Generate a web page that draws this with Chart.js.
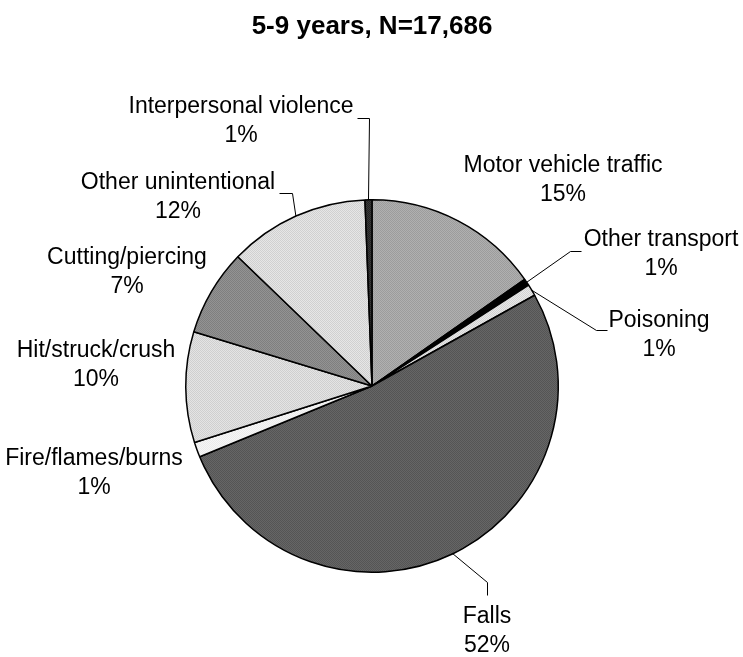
<!DOCTYPE html>
<html>
<head>
<meta charset="utf-8">
<script src="https://cdn.jsdelivr.net/npm/chart.js@4.4.1/dist/chart.umd.min.js"></script>
<style>
html,body{margin:0;padding:0;background:#fff;}
#wrap{width:743px;height:657px;}
</style>
</head>
<body>
<div id="wrap"><canvas id="c" width="743" height="657"></canvas></div>
<script>
// ---- data ----
const chartTitle = "5-9 years, N=17,686";
const categories = ["Motor vehicle traffic","Other transport","Poisoning","Falls","Fire/flames/burns","Hit/struck/crush","Cutting/piercing","Other unintentional","Interpersonal violence"];
const shareValues = [15.3, 0.6, 1.0, 51.9, 1.3, 9.6, 7.5, 12.2, 0.6];
const shareLabels = ["15%","1%","1%","52%","1%","10%","7%","12%","1%"];

// ---- styling ----
function dotPattern(a, b){
  const p = document.createElement('canvas'); p.width = 2; p.height = 2;
  const g = p.getContext('2d');
  g.fillStyle = a; g.fillRect(0,0,2,2);
  g.fillStyle = b; g.fillRect(0,0,1,1); g.fillRect(1,1,1,1);
  return g.createPattern(p,'repeat');
}
const sliceFills = [
  dotPattern('#b0b0b0','#9c9c9c'),
  '#000000',
  dotPattern('#e8e8e8','#d2d2d2'),
  dotPattern('#666666','#555555'),
  dotPattern('#f6f6f6','#ebebeb'),
  dotPattern('#e4e4e4','#cfcfcf'),
  dotPattern('#939393','#7f7f7f'),
  dotPattern('#e6e6e6','#d0d0d0'),
  dotPattern('#3a3a3a','#222222')
];
// label layout: text centre, and optional leader-line path (elbow points)
const labelLayout = [
  {x:563, y:166, path:null},
  {x:661, y:240, path:[[570,251],[581,251]]},
  {x:659, y:321, path:[[596,330],[607,330]]},
  {x:487, y:617, path:[[487,582],[487,595]]},
  {x:94,  y:459, path:null},
  {x:96,  y:351, path:null},
  {x:127, y:258, path:null},
  {x:178, y:183, path:[[292,193],[279,193]]},
  {x:241, y:107, path:[[369,118],[357,118]]}
];
const lineGap = 29;
const FONT = '"Liberation Sans", Arial, sans-serif';

const labelPlugin = {
  id:'outLabels',
  afterDatasetsDraw(chart){
    const ctx = chart.ctx;
    const meta = chart.getDatasetMeta(0);
    ctx.save();
    // title
    ctx.fillStyle = '#000';
    ctx.font = 'bold 26px ' + FONT;
    ctx.textAlign = 'center'; ctx.textBaseline = 'middle';
    ctx.fillText(chartTitle, 372, 27);
    ctx.font = '23px ' + FONT;
    meta.data.forEach((arc, i) => {
      const L = labelLayout[i];
      const p = arc.getProps(['x','y','startAngle','endAngle','outerRadius'], true);
      if (L.path){
        const mid = (p.startAngle + p.endAngle)/2;
        ctx.beginPath();
        ctx.strokeStyle = '#000'; ctx.lineWidth = 1;
        ctx.moveTo(p.x + Math.cos(mid)*p.outerRadius, p.y + Math.sin(mid)*p.outerRadius);
        L.path.forEach(pt => ctx.lineTo(pt[0]+0.5, pt[1]+0.5));
        ctx.stroke();
      }
      ctx.fillStyle = '#000';
      ctx.fillText(categories[i], L.x, L.y);
      ctx.fillText(shareLabels[i], L.x, L.y + lineGap);
    });
    ctx.restore();
  }
};

new Chart(document.getElementById('c'), {
  type:'pie',
  data:{
    labels: categories,
    datasets:[{
      data: shareValues,
      backgroundColor: sliceFills,
      borderColor:'#000',
      borderWidth:1.5,
      borderAlign:'center'
    }]
  },
  options:{
    responsive:false,
    animation:false,
    events:[],
    layout:{padding:{top:199,bottom:84,left:185,right:184}},
    plugins:{legend:{display:false}, tooltip:{enabled:false}, title:{display:false}}
  },
  plugins:[labelPlugin]
});
</script>
</body>
</html>
